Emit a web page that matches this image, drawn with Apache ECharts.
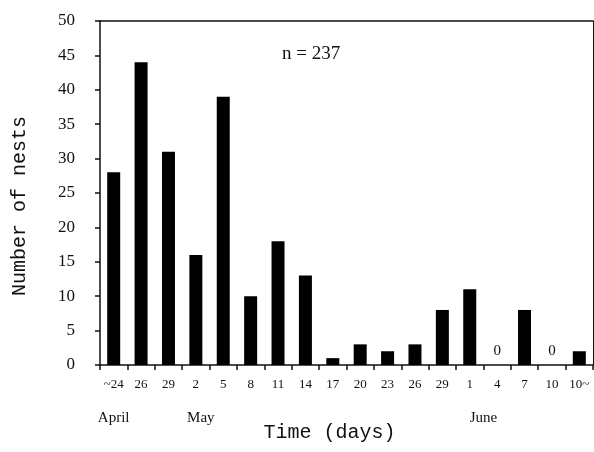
<!DOCTYPE html>
<html>
<head>
<meta charset="utf-8">
<script src="https://cdn.jsdelivr.net/npm/echarts@6/dist/echarts.min.js"></script>
<style>html,body{margin:0;padding:0;background:#fff;}#c{width:594px;height:452px;}</style>
</head>
<body>
<div id="c"></div>
<script>
var categories = ['~24','26','29','2','5','8','11','14','17','20','23','26','29','1','4','7','10','10~'];
var months = ['April','','','May','','','','','','','','','','June','','','',''];
var nests = [28,44,31,16,39,10,18,13,1,3,2,3,8,11,0,8,0,2];
var yTicks = {min:0, max:50, interval:5};

var chart = echarts.init(document.getElementById('c'), null, {renderer:'canvas'});
var ink = '#111';
var monthData = months.map(function(m){
  if (m === 'June') return {value:m, textStyle:{align:'left'}};
  if (m === 'May') return {value:m, textStyle:{padding:[0,0,0,10]}};
  return m;
});
chart.setOption({
  animation:false,
  backgroundColor:'#fff',
  title:{
    text:'n = 237', left:277, top:40,
    textStyle:{fontFamily:'Liberation Serif', fontSize:19, fontWeight:'normal', color:ink}
  },
  grid:{left:100, right:1, top:21, bottom:87},
  xAxis:[{
    type:'category', data:categories, position:'bottom',
    axisLine:{lineStyle:{color:ink, width:1.5}},
    axisTick:{show:true, length:5, lineStyle:{color:ink, width:1.5}},
    axisLabel:{margin:13, fontFamily:'Liberation Serif', fontSize:13, color:ink, interval:0},
    name:'Time (days)', nameLocation:'middle', nameGap:58,
    nameTextStyle:{fontFamily:'Liberation Mono', fontSize:20, color:ink, padding:[0,34,0,0]}
  },{
    type:'category', data:monthData, position:'bottom', offset:0,
    axisLine:{show:false}, axisTick:{show:false},
    axisLabel:{margin:46, fontFamily:'Liberation Serif', fontSize:15, color:ink, interval:0}
  },{
    type:'category', data:categories, position:'top',
    axisLine:{lineStyle:{color:ink, width:1.5}}, axisTick:{show:false}, axisLabel:{show:false}
  }],
  yAxis:[{
    type:'value', min:yTicks.min, max:yTicks.max, interval:yTicks.interval,
    splitLine:{show:false},
    axisLine:{show:true, lineStyle:{color:ink, width:1.5}},
    axisTick:{show:true, length:5, lineStyle:{color:ink, width:1.5}},
    axisLabel:{margin:25, fontFamily:'Liberation Serif', fontSize:17, color:ink},
    name:'Number of nests', nameLocation:'middle', nameGap:70,
    nameTextStyle:{fontFamily:'Liberation Mono', fontSize:20, color:ink, padding:[0,26,0,0]}
  },{
    type:'value', min:yTicks.min, max:yTicks.max, position:'right',
    splitLine:{show:false},
    axisLine:{show:true, lineStyle:{color:ink, width:1}}, axisTick:{show:false}, axisLabel:{show:false}
  }],
  series:[{
    type:'bar', data:nests, xAxisIndex:0, yAxisIndex:0,
    barWidth:13,
    itemStyle:{color:'#000'},
    label:{
      show:true, position:'top', distance:6,
      fontFamily:'Liberation Serif', fontSize:15, color:ink,
      formatter:function(p){ return p.value === 0 ? '0' : ''; }
    }
  }]
});
</script>
</body>
</html>
